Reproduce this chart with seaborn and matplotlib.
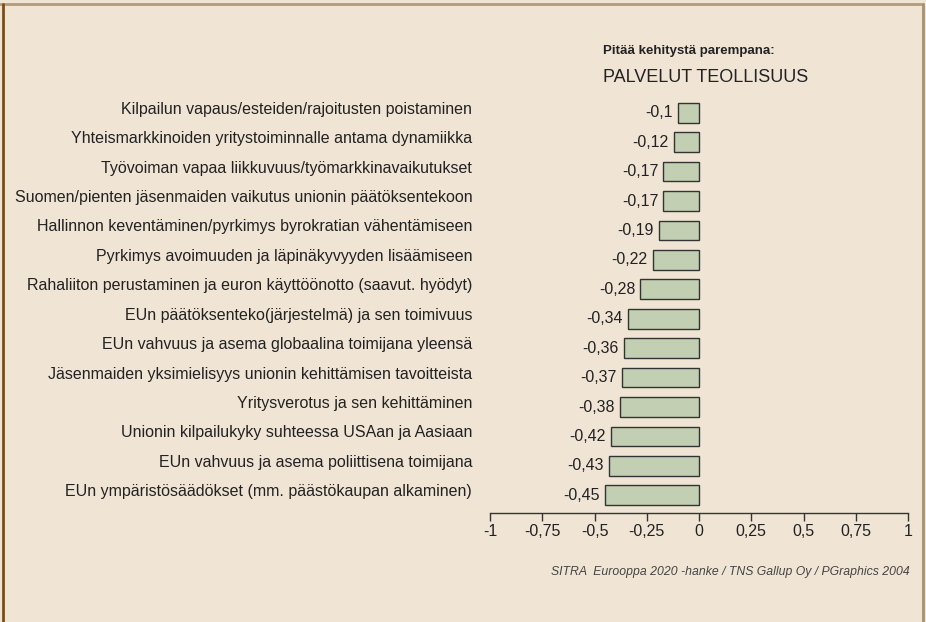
import matplotlib
matplotlib.use("Agg")
import matplotlib.pyplot as plt
import seaborn as sns
import pandas as pd

# chart data
categories = [
    "Kilpailun vapaus/esteiden/rajoitusten poistaminen",
    "Yhteismarkkinoiden yritystoiminnalle antama dynamiikka",
    "Työvoiman vapaa liikkuvuus/työmarkkinavaikutukset",
    "Suomen/pienten jäsenmaiden vaikutus unionin päätöksentekoon",
    "Hallinnon keventäminen/pyrkimys byrokratian vähentämiseen",
    "Pyrkimys avoimuuden ja läpinäkyvyyden lisäämiseen",
    "Rahaliiton perustaminen ja euron käyttöönotto (saavut. hyödyt)",
    "EUn päätöksenteko(järjestelmä) ja sen toimivuus",
    "EUn vahvuus ja asema globaalina toimijana yleensä",
    "Jäsenmaiden yksimielisyys unionin kehittämisen tavoitteista",
    "Yritysverotus ja sen kehittäminen",
    "Unionin kilpailukyky suhteessa USAan ja Aasiaan",
    "EUn vahvuus ja asema poliittisena toimijana",
    "EUn ympäristösäädökset (mm. päästökaupan alkaminen)",
]
values = [-0.10, -0.12, -0.17, -0.17, -0.19, -0.22, -0.28,
          -0.34, -0.36, -0.37, -0.38, -0.42, -0.43, -0.45]
value_labels = ["-0,1", "-0,12", "-0,17", "-0,17", "-0,19", "-0,22", "-0,28",
                "-0,34", "-0,36", "-0,37", "-0,38", "-0,42", "-0,43", "-0,45"]
xticks = [-1, -0.75, -0.5, -0.25, 0, 0.25, 0.5, 0.75, 1]
xtick_labels = ["-1", "-0,75", "-0,5", "-0,25", "0", "0,25", "0,5", "0,75", "1"]

df = pd.DataFrame({"kategoria": categories, "arvo": values})

sns.set_theme(style="white")
plt.rcParams["font.family"] = ["Liberation Sans", "DejaVu Sans"]

bg = "#f0e5d5"
txt = "#222222"
fig = plt.figure(figsize=(9.26, 6.22), dpi=100, facecolor=bg)
ax = fig.add_axes([490 / 926, 109 / 622, 418 / 926, 415 / 622])
ax.set_facecolor(bg)

sns.barplot(data=df, x="arvo", y="kategoria", orient="h", color="#c2cfb2",
            edgecolor="#333333", linewidth=1, width=0.67, saturation=1, ax=ax)

ax.set_xlim(-1, 1)
ax.set_ylim(13.6, -0.5)
ax.set_xticks(xticks)
ax.set_xticklabels(xtick_labels, fontsize=11.5, color=txt)
ax.tick_params(axis="x", direction="out", length=6, width=1, color="#333333",
               pad=2, bottom=True)
ax.tick_params(axis="y", left=False, labelleft=False)
ax.set_xlabel("")
ax.set_ylabel("")
for s in ["top", "left", "right"]:
    ax.spines[s].set_visible(False)
ax.spines["bottom"].set_color("#333333")
ax.spines["bottom"].set_linewidth(1)

for i, (cat, v, lab) in enumerate(zip(categories, values, value_labels)):
    ax.text(v - 0.025, i, lab, ha="right", va="center", fontsize=11.5,
            color=txt)
    ax.text(-1.085, i - 0.12, cat, ha="right", va="center", fontsize=11.5,
            color=txt, clip_on=False)

fig.text(603 / 926, 1 - 51 / 622, "Pitää kehitystä parempana:", fontsize=9.5,
         fontweight="bold", color=txt, ha="left", va="center")
fig.text(603 / 926, 1 - 78 / 622, "PALVELUT TEOLLISUUS", fontsize=13,
         color=txt, ha="left", va="center")
fig.text(910 / 926, 1 - 572 / 622,
         "SITRA  Eurooppa 2020 -hanke / TNS Gallup Oy / PGraphics 2004",
         fontsize=8.8, style="italic", color="#444444", ha="right", va="center")

# frame around the graphic
fig.add_artist(plt.Line2D([0, 923 / 926], [1 - 4 / 622] * 2,
                          transform=fig.transFigure, color="#b39b78", lw=2))
fig.add_artist(plt.Line2D([2.5 / 926] * 2, [0, 1 - 4 / 622],
                          transform=fig.transFigure, color="#7b4e12", lw=2))
fig.add_artist(plt.Line2D([922.5 / 926] * 2, [0, 1 - 4 / 622],
                          transform=fig.transFigure, color="#a8916c", lw=2))

fig.savefig("out.png", dpi=100, facecolor=bg)
